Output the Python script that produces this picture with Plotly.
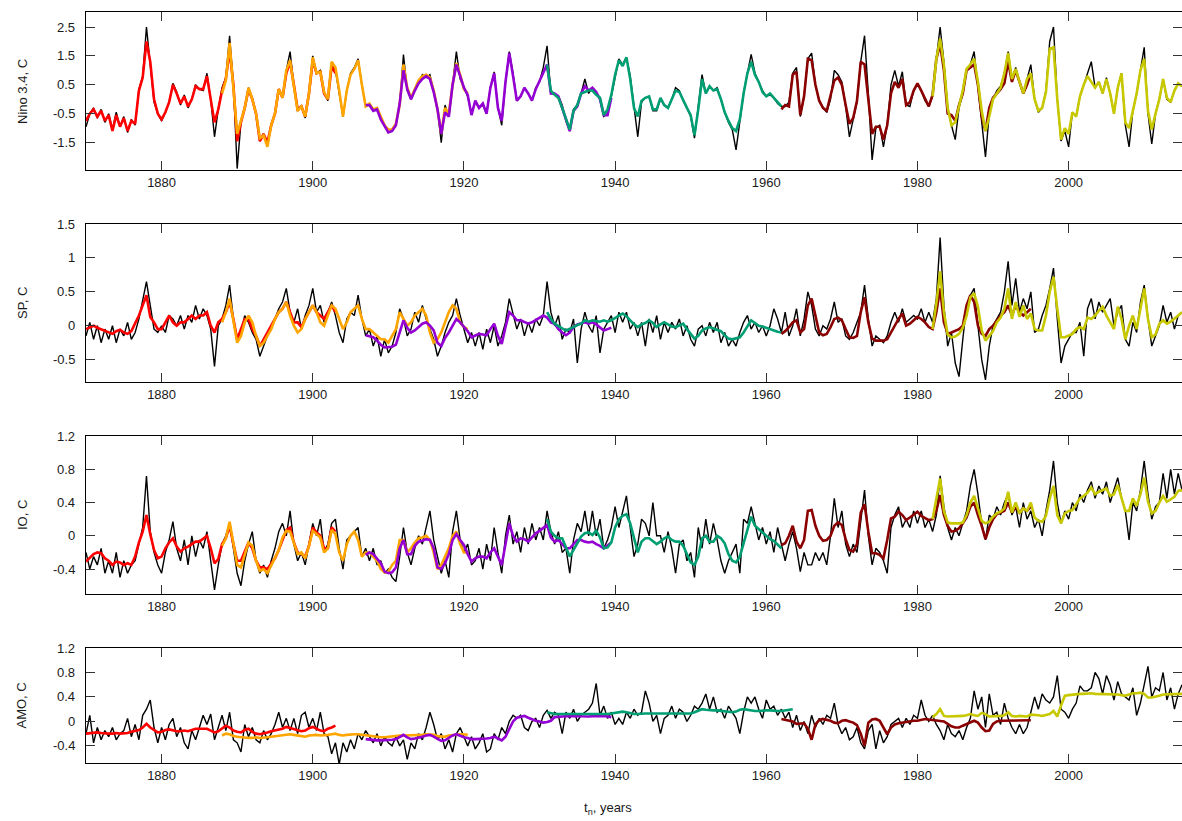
import plotly.graph_objects as go

# ---------------- data (half-year sampling) ----------------
STEP = 0.5
OBS_START = 1870.0
RED_START = 1870.0
ORANGE_START = 1888.0
PURPLE_START = 1907.0
TEAL_START = 1931.0
DARKRED_START = 1962.0
YELLOW_START = 1982.0

X_TICKS = [1880, 1900, 1920, 1940, 1960, 1980, 2000]
NINO_TICKS = [-1.5, -0.5, 0.5, 1.5, 2.5]
SP_TICKS = [-0.5, 0, 0.5, 1, 1.5]
IO_TICKS = [-0.4, 0, 0.4, 0.8, 1.2]
AMO_TICKS = [-0.4, 0, 0.4, 0.8, 1.2]
PANEL_TITLES = ["Nino 3.4, C", "SP, C", "IO, C", "AMO, C"]
X_TITLE = "t<sub>n</sub>, years"

# ---- Nino 3.4 ----
NINO_OBS = [
    -0.95, -0.5, -0.3, -0.65, -0.35, -0.8, -0.5, -1.05, -0.45, -0.95, -0.6, -1.15, -0.7, -0.9, 0.35, 0.8, 2.5, 1.3, -0.1, -0.5,
    -0.75, -0.45, -0.1, 0.55, 0.25, -0.2, 0.15, -0.3, 0.0, 0.5, 0.35, 0.3, 0.9, 0.0, -1.3, -0.35, 0.4, 0.75, 2.2, 0.5,
    -2.4, -0.8, -0.3, 0.4, 0.0, -0.55, -1.45, -1.2, -1.6, -0.9, -0.5, 0.35, 0.05, 1.0, 1.65, 0.5, -0.4, -0.25, -0.65, 0.2,
    1.5, 0.9, 1.0, 0.2, -0.05, 1.2, 1.0, 0.2, -0.6, 0.3, 0.9, 1.1, 1.4, 0.5, -0.25, -0.2, -0.4, -0.3, -0.65, -0.9,
    -1.15, -1.1, -0.9, -0.2, 1.55, 0.3, 0.0, 0.3, 0.6, 0.85, 0.75, 0.85, 0.3, -0.35, -1.5, -0.2, -0.6, 0.6, 1.65, 0.7,
    0.4, 0.1, -0.5, -0.1, -0.3, -0.2, -0.5, 0.4, 0.95, -0.3, -0.9, 0.6, 1.65, 0.9, -0.05, 0.1, 0.4, 0.2, -0.05, 0.4,
    0.6, 1.1, 1.85, 0.2, 0.2, 0.1, -0.2, -0.75, -1.1, -0.35, -0.2, 0.2, 0.7, 0.2, 0.4, 0.2, 0.0, -0.6, -0.5, 0.1,
    0.8, 1.4, 1.2, 1.45, 0.8, -0.3, -1.3, -0.1, 0.05, 0.1, -0.4, -0.4, 0.0, -0.2, -0.3, 0.0, 0.4, 0.3, -0.05, -0.3,
    -0.6, -1.35, -0.3, 0.85, 0.2, 0.45, 0.3, 0.4, 0.0, -0.45, -0.8, -1.05, -1.75, -0.7, 0.2, 0.9, 1.55, 0.9, 0.6, 0.3,
    0.1, 0.15, 0.05, -0.15, -0.25, -0.25, -0.1, 0.9, 1.1, -0.6, 0.1, 1.4, 1.6, 0.5, -0.05, -0.3, -0.45, 0.0, 1.0, 0.85,
    0.6, -0.25, -1.3, -0.7, -0.1, 1.3, 2.2, 0.2, -2.1, -1.0, -0.9, -1.65, -0.9, 0.5, 1.0, 0.45, 0.95, -0.2, -0.25, 0.3,
    0.55, 0.3, -0.05, -0.25, 0.1, 1.4, 2.5, 1.3, -0.3, -0.9, -1.4, -0.3, 0.2, 1.0, 1.2, 1.65, 0.5, -0.8, -2.0, -0.5,
    0.0, 0.3, 0.45, 0.9, 1.65, 0.7, 1.1, 0.6, 0.2, 0.7, 1.2, 0.0, -0.45, -0.3, 0.3, 2.0, 2.5, 0.0, -1.45, -1.1,
    -1.65, -0.45, -0.6, 0.1, 0.5, 0.85, 1.3, 0.4, 0.6, 0.2, 0.75, 0.2, -0.5, 0.4, 0.9, -0.9, -1.65, -0.4, 0.2, 1.0,
    1.8, -0.5, -1.55, -0.5, 0.0, 0.7, 0.0, -0.1, 0.3, 0.55, 0.45,
]
NINO_RED = [
    -0.75, -0.5, -0.35, -0.6, -0.4, -0.75, -0.55, -1.1, -0.55, -0.95, -0.65, -1.1, -0.75, -0.85, 0.3, 0.75, 2.0, 1.3, 0.0, -0.5,
    -0.7, -0.45, -0.1, 0.5, 0.2, -0.15, 0.1, -0.25, 0.0, 0.45, 0.35, 0.35, 0.8, 0.0, -0.8, -0.35, 0.3, 0.7, 1.7, 0.5,
    -1.45, -0.8, -0.3, 0.35, 0.0, -0.5, -1.45, -1.2, -1.5, -0.9, -0.5, 0.35, 0.05, 0.9, 1.3, 0.5, -0.35, -0.25, -0.6, 0.2,
    1.35, 0.9, 0.95, 0.2, 0.0, 1.15, 0.9,
]
NINO_ORANGE = [
    0.2, 0.65, 1.95, 0.5,
    -1.2, -0.75, -0.3, 0.4, 0.0, -0.5, -1.35, -1.25, -1.65, -0.9, -0.5, 0.35, 0.05, 1.0, 1.35, 0.45, -0.4, -0.25, -0.6, 0.2,
    1.45, 0.9, 0.95, 0.25, 0.0, 1.3, 1.1, 0.3, -0.6, 0.3, 0.85, 1.05, 1.35, 0.5, -0.25, -0.15, -0.35, -0.3, -0.6, -0.9,
    -1.05, -1.05, -0.85, -0.2, 1.2, 0.4, 0.05, 0.35, 0.65, 0.8, 0.85, 0.75, 0.3, -0.35, -1.2, -0.3, -0.5, 0.5, 1.25, 0.85,
    0.35, 0.2,
]
NINO_PURPLE = [
    -0.2, -0.2, -0.4, -0.35, -0.7, -0.95,
    -1.15, -1.1, -0.9, -0.15, 1.0, 0.35, 0.0, 0.3, 0.55, 0.7, 0.8, 0.7, 0.25, -0.35, -1.2, -0.45, -0.6, 0.5, 1.2, 0.8,
    0.4, 0.15, -0.55, -0.05, -0.3, -0.15, -0.5, 0.4, 0.9, -0.3, -0.75, 0.6, 1.6, 0.8, -0.05, 0.1, 0.4, 0.2, -0.05, 0.35,
    0.65, 0.9, 1.2, 0.2, 0.2, 0.1, -0.3, -0.75, -1.1, -0.4, -0.25, 0.2, 0.45, 0.3, 0.4, 0.25, 0.0, -0.55, -0.55, 0.05,
]
NINO_TEAL = [
    1.2, 0.3, 0.15, 0.05, -0.3, -0.7, -1.05, -0.4, -0.2, 0.2, 0.25, 0.3, 0.3, 0.15, 0.05, -0.55, -0.35, 0.15,
    0.85, 1.35, 1.15, 1.45, 0.7, -0.3, -0.6, -0.05, 0.05, 0.1, -0.35, -0.35, 0.05, -0.2, -0.3, 0.0, 0.3, 0.25, -0.05, -0.3,
    -0.55, -1.25, -0.35, 0.7, 0.2, 0.45, 0.3, 0.35, 0.0, -0.45, -0.75, -1.0, -1.1, -0.7, 0.2, 0.9, 1.3, 0.85, 0.6, 0.25,
    0.1, 0.2, 0.05, -0.1, -0.25,
]
NINO_DARKRED = [
    -0.35, -0.2, -0.25, 0.85, 0.95, -0.55, 0.1, 1.4, 1.35, 0.5, -0.05, -0.3, -0.4, 0.1, 0.65, 0.75,
    0.5, -0.2, -0.85, -0.65, -0.05, 1.3, 1.2, 0.0, -1.2, -0.95, -0.95, -1.4, -0.9, 0.2, 0.6, 0.4, 0.7, -0.2, -0.1, 0.3,
    0.55, 0.3, 0.05, -0.25, 0.15, 1.4, 1.9, 1.0, -0.5, -0.55, -0.75, -0.2, 0.2, 1.0, 1.1, 1.2, 0.5, -0.6, -1.1, -0.3,
    0.05, 0.2, 0.35, 0.55, 1.3, 0.6, 1.0, 0.6, 0.2, 0.5, 0.9,
]
NINO_YELLOW = [
    0.1, 1.4, 2.1, 1.2, -0.3, -0.9, -0.8, -0.3, 0.3, 1.05, 1.2, 1.4, 0.6, -0.4, -1.1, -0.6,
    0.0, 0.2, 0.4, 0.9, 1.6, 0.7, 1.05, 0.6, 0.2, 0.7, 0.9, 0.0, -0.4, -0.3, 0.25, 1.75, 1.8, 0.0, -1.4, -1.0,
    -1.2, -0.45, -0.6, 0.1, 0.5, 0.8, 0.6, 0.4, 0.6, 0.2, 0.7, 0.2, -0.5, 0.4, 0.9, -0.8, -1.0, -0.4, 0.2, 1.0,
    1.4, -0.4, -1.05, -0.5, 0.0, 0.7, 0.05, -0.1, 0.3, 0.55, 0.45,
]

# ---- SP ----
SP_OBS = [
    -0.15, 0.05, -0.2, 0.0, -0.25, -0.05, -0.2, 0.0, -0.25, -0.05, -0.15, 0.05, -0.2, -0.1, 0.1, 0.35, 0.65, 0.3, -0.05, -0.1,
    0.0, -0.1, 0.15, 0.1, 0.0, 0.15, -0.05, 0.15, 0.05, 0.3, 0.1, 0.25, 0.15, -0.05, -0.6, 0.0, 0.1, 0.3, 0.6, 0.1,
    -0.2, -0.1, 0.15, 0.05, -0.1, -0.2, -0.45, -0.3, -0.15, 0.0, 0.1, 0.25, 0.35, 0.55, 0.2, 0.05, 0.25, -0.05, 0.15, 0.3,
    0.55, 0.2, 0.3, 0.05, 0.2, 0.35, 0.15, -0.1, -0.25, 0.1, 0.2, 0.15, 0.45, 0.1, -0.15, -0.05, -0.3, -0.15, -0.45, -0.2,
    -0.4, -0.3, -0.1, 0.25, 0.1, -0.15, -0.05, 0.2, 0.05, 0.3, 0.1, -0.05, -0.2, -0.45, -0.3, -0.1, 0.05, 0.15, 0.4, 0.15,
    -0.05, -0.25, -0.1, -0.3, -0.1, -0.35, -0.05, -0.25, 0.0, -0.3, -0.15, 0.05, 0.4, 0.15, -0.05, 0.1, -0.15, 0.05, -0.1, 0.1,
    0.0, 0.15, 0.65, 0.2, 0.0, 0.15, -0.2, -0.05, -0.1, 0.1, -0.55, -0.05, 0.2, 0.0, -0.1, 0.15, -0.4, -0.05, 0.05, 0.15,
    -0.1, 0.2, 0.05, 0.2, -0.05, 0.05, -0.15, 0.05, -0.3, 0.1, -0.1, 0.15, -0.2, 0.05, -0.1, 0.05, -0.05, 0.1, -0.15, 0.0,
    -0.2, -0.3, -0.05, 0.0, -0.15, 0.05, -0.1, 0.05, -0.25, -0.1, -0.3, -0.2, -0.3, -0.1, 0.05, 0.15, -0.05, 0.05, -0.1, 0.0,
    -0.15, 0.0, 0.25, 0.1, -0.1, 0.2, -0.15, 0.0, 0.25, -0.15, 0.1, 0.5, 0.3, -0.05, -0.15, 0.0, -0.05, 0.1, 0.35, 0.05,
    0.1, -0.15, -0.2, -0.1, 0.05, 0.2, 0.6, 0.1, -0.3, -0.15, -0.2, -0.25, -0.15, 0.05, 0.2, 0.05, 0.25, 0.05, 0.1, 0.15,
    0.1, 0.25, 0.05, 0.2, 0.05, 0.4, 1.3, 0.3, -0.3, -0.1, -0.55, -0.75, -0.2, 0.3, 0.45, 0.55, 0.0, -0.5, -0.8, -0.3,
    0.0, 0.1, 0.2, 0.5, 0.95, 0.3, 0.7, 0.2, 0.4, 0.25, 0.5, -0.1, -0.05, 0.15, 0.3, 0.55, 0.85, 0.1, -0.55, -0.3,
    -0.2, -0.1, -0.1, 0.05, -0.45, 0.25, 0.4, 0.1, 0.35, 0.2, 0.3, 0.4, 0.0, 0.2, 0.3, -0.2, -0.3, 0.05, -0.1, 0.35,
    0.6, 0.1, -0.3, -0.15, 0.0, 0.3, 0.05, 0.2, -0.05, 0.15, 0.2,
]
SP_RED = [
    -0.05, -0.03, 0.0, -0.03, -0.05, -0.08, -0.1, -0.12, -0.08, -0.06, -0.1, -0.12, -0.08, 0.03, 0.15, 0.3, 0.45, 0.13, 0.05, -0.05,
    -0.05, 0.05, 0.15, 0.05, 0.0, 0.05, 0.05, 0.1, 0.15, 0.1, 0.15, 0.15, 0.2, 0.0, -0.1, 0.05, 0.1, 0.2, 0.35, 0.1,
    -0.2, -0.05, 0.1, 0.1, -0.05, -0.15, -0.3, -0.2, -0.1, 0.0, 0.1, 0.2, 0.25, 0.35, 0.2, 0.05, 0.05, -0.02, 0.1, 0.2,
    0.3, 0.2, 0.15, 0.1, 0.2, 0.3, 0.2,
]
SP_ORANGE = [
    0.05, 0.2, 0.4, 0.1,
    -0.25, -0.15, 0.05, 0.15, 0.05, -0.15, -0.3, -0.25, -0.15, -0.05, 0.1, 0.2, 0.25, 0.35, 0.15, 0.0, -0.1, -0.05, 0.1, 0.2,
    0.3, 0.2, 0.05, 0.0, 0.15, 0.3, 0.25, 0.1, -0.05, 0.05, 0.2, 0.25, 0.3, 0.1, -0.05, -0.05, -0.1, -0.15, -0.2, -0.2,
    -0.25, -0.15, -0.05, 0.2, 0.1, 0.0, 0.05, 0.15, 0.2, 0.25, 0.15, -0.1, -0.25, -0.2, -0.1, 0.05, 0.2, 0.3, 0.25, 0.05,
    -0.02, -0.05,
]
SP_PURPLE = [
    -0.14, -0.15, -0.17, -0.22, -0.28, -0.32,
    -0.32, -0.31, -0.28, -0.1, 0.08, -0.03, -0.1, -0.07, -0.02, 0.03, 0.05, 0.0, -0.07, -0.25, -0.3, -0.18, -0.1, 0.0, 0.1, 0.05,
    -0.02, -0.08, -0.17, -0.15, -0.12, -0.13, -0.14, -0.05, 0.03, -0.15, -0.27, -0.02, 0.2, 0.15, 0.08, 0.08, 0.06, 0.03, 0.05, 0.08,
    0.12, 0.15, 0.12, 0.05, 0.03, -0.05, -0.1, -0.14, -0.1, -0.02, 0.02, 0.03, 0.05, 0.03, 0.05, 0.02, -0.02, -0.07, -0.05, -0.03,
]
SP_TEAL = [
    0.2, 0.1, 0.03, -0.01, -0.04, -0.07, -0.05, -0.02, 0.01, 0.03, 0.08, 0.06, 0.08, 0.07, 0.06, 0.08, 0.06, 0.08,
    0.12, 0.15, 0.18, 0.14, 0.08, 0.02, -0.02, 0.02, 0.04, 0.08, 0.04, -0.02, 0.02, 0.05, 0.02, -0.01, -0.02, 0.01, 0.03, -0.05,
    -0.12, -0.19, -0.15, -0.07, -0.04, -0.02, -0.04, -0.06, -0.08, -0.14, -0.19, -0.2, -0.19, -0.17, -0.1, 0.0, 0.08, 0.04, 0.0, -0.01,
    -0.03, -0.06, -0.08, -0.09, -0.1,
]
SP_DARKRED = [
    -0.12, -0.08, -0.02, 0.05, 0.08, -0.1, -0.05, 0.3, 0.4, 0.13, -0.1, -0.14, -0.12, -0.02, 0.1, 0.12,
    0.08, -0.05, -0.17, -0.18, -0.15, 0.2, 0.42, 0.05, -0.19, -0.22, -0.22, -0.22, -0.2, -0.1, 0.02, 0.1, 0.18, 0.0, 0.03, 0.08,
    0.13, 0.1, 0.05, -0.02, -0.05, 0.2, 0.55, 0.05, -0.12, -0.1, -0.08, -0.05, 0.0, 0.3, 0.45, 0.35, 0.0, -0.12, -0.15, -0.05,
    0.0, 0.08, 0.15, 0.2, 0.3, 0.15, 0.3, 0.2, 0.15, 0.2, 0.25,
]
SP_YELLOW = [
    -0.05, 0.33, 0.8, 0.2, -0.13, -0.17, -0.16, -0.12, -0.03, 0.15, 0.42, 0.48, 0.28, -0.07, -0.22, -0.15,
    -0.08, 0.05, 0.12, 0.25, 0.55, 0.1, 0.35, 0.13, 0.3, 0.1, 0.18, -0.05, -0.07, -0.07, 0.15, 0.5, 0.72, 0.25, -0.17, -0.17,
    -0.15, -0.12, -0.05, -0.02, -0.05, 0.12, 0.1, 0.15, 0.22, 0.28, 0.15, 0.05, -0.05, 0.28, 0.1, -0.2, 0.0, 0.15, -0.05, 0.25,
    0.55, 0.1, -0.17, -0.13, 0.03, 0.08, 0.03, 0.06, 0.1, 0.15, 0.2,
]

# ---- IO ----
IO_OBS = [
    -0.2, -0.4, -0.25, -0.35, -0.15, -0.45, -0.3, -0.45, -0.2, -0.5, -0.3, -0.45, -0.35, -0.3, -0.1, 0.1, 0.72, 0.05, -0.2, -0.35,
    -0.45, -0.2, -0.05, 0.17, -0.15, -0.3, -0.05, -0.35, 0.0, -0.25, -0.05, -0.15, 0.05, -0.3, -0.65, -0.35, -0.1, 0.0, 0.15, -0.15,
    -0.45, -0.6, -0.3, -0.1, 0.05, -0.3, -0.45, -0.35, -0.5, -0.3, -0.15, 0.05, 0.15, 0.0, 0.3, -0.1, -0.3, -0.2, -0.35, -0.1,
    0.15, 0.0, 0.2, -0.2, -0.1, 0.15, 0.2, -0.15, -0.4, -0.05, 0.0, 0.05, 0.1, -0.25, -0.15, -0.3, -0.15, -0.35, -0.3, -0.45,
    -0.4, -0.5, -0.55, -0.25, 0.1, -0.2, -0.35, -0.15, 0.0, -0.1, 0.1, 0.3, -0.05, -0.25, -0.45, -0.3, -0.5, 0.05, 0.3, -0.05,
    -0.2, -0.1, -0.35, -0.3, -0.15, -0.4, -0.1, -0.3, 0.1, -0.2, -0.45, 0.0, 0.25, -0.1, 0.05, -0.2, 0.1, -0.1, 0.15, -0.05,
    0.1, -0.05, 0.3, 0.05, -0.1, 0.05, -0.2, -0.15, -0.45, -0.05, 0.15, 0.05, 0.3, 0.0, 0.3, 0.0, 0.2, -0.15, -0.05, 0.1,
    0.35, 0.1, 0.3, 0.48, 0.1, -0.25, -0.1, 0.2, 0.15, 0.0, 0.4, 0.0, 0.0, -0.2, 0.05, -0.15, -0.45, -0.1, -0.05, -0.3,
    -0.2, -0.5, 0.1, -0.15, 0.2, -0.1, 0.15, -0.05, -0.3, -0.45, -0.3, -0.2, -0.1, -0.45, 0.2, 0.15, 0.35, 0.15, -0.05, 0.1,
    -0.1, 0.05, -0.2, 0.1, -0.1, -0.3, -0.1, 0.05, -0.15, -0.43, -0.2, -0.35, -0.35, -0.2, -0.3, -0.2, -0.35, 0.0, 0.45, 0.1,
    0.3, -0.1, -0.25, -0.1, -0.2, 0.2, 0.55, 0.0, -0.35, -0.15, -0.2, -0.3, -0.45, 0.1, 0.25, 0.35, 0.1, 0.2, 0.1, 0.3,
    0.15, 0.3, 0.1, 0.2, 0.05, 0.25, 0.72, 0.35, 0.1, -0.05, 0.1, 0.0, 0.15, 0.3, 0.6, 0.8, 0.5, 0.15, -0.05, 0.25,
    0.2, 0.35, 0.25, 0.4, 0.5, 0.25, 0.35, 0.1, 0.4, 0.2, 0.3, 0.1, 0.2, 0.0, 0.3, 0.55, 0.9, 0.4, 0.15, 0.3,
    0.2, 0.4, 0.3, 0.5, 0.4, 0.55, 0.65, 0.45, 0.6, 0.5, 0.65, 0.4, 0.55, 0.7, 0.45, 0.3, -0.05, 0.4, 0.3, 0.55,
    0.9, 0.5, 0.2, 0.35, 0.4, 0.75, 0.45, 0.8, 0.5, 0.75, 0.55,
]
IO_RED = [
    -0.31, -0.27, -0.22, -0.2, -0.21, -0.27, -0.3, -0.35, -0.31, -0.32, -0.35, -0.33, -0.35, -0.25, -0.08, 0.05, 0.25, 0.02, -0.17, -0.27,
    -0.25, -0.15, -0.08, -0.03, -0.13, -0.19, -0.15, -0.13, -0.1, -0.07, -0.07, -0.03, 0.0, -0.15, -0.33, -0.28, -0.1, -0.03, 0.12, -0.1,
    -0.3, -0.3, -0.19, -0.08, -0.15, -0.3, -0.38, -0.38, -0.4, -0.33, -0.27, -0.17, -0.05, 0.07, 0.1, -0.08, -0.2, -0.22, -0.25, -0.12,
    0.1, 0.04, 0.0, -0.15, -0.15, 0.1, 0.05,
]
IO_ORANGE = [
    -0.12, -0.03, 0.17, -0.1,
    -0.35, -0.38, -0.22, -0.08, -0.12, -0.3, -0.42, -0.4, -0.45, -0.35, -0.27, -0.17, -0.02, 0.06, 0.05, -0.1, -0.22, -0.2, -0.27, -0.12,
    0.06, 0.02, -0.02, -0.2, -0.15, 0.07, 0.02, -0.2, -0.3, -0.1, 0.0, 0.05, -0.05, -0.25, -0.2, -0.2, -0.25, -0.3, -0.4, -0.44,
    -0.43, -0.35, -0.3, -0.05, -0.05, -0.2, -0.15, -0.08, -0.03, -0.02, 0.0, -0.05, -0.2, -0.4, -0.35, -0.25, -0.15, 0.0, 0.05, -0.1,
    -0.2, -0.2,
]
IO_PURPLE = [
    -0.23, -0.2, -0.22, -0.27, -0.33, -0.43,
    -0.45, -0.44, -0.38, -0.15, -0.05, -0.22, -0.22, -0.12, -0.07, -0.06, -0.04, -0.05, -0.15, -0.38, -0.4, -0.33, -0.22, -0.05, 0.02, -0.05,
    -0.11, -0.22, -0.31, -0.27, -0.25, -0.25, -0.27, -0.2, -0.15, -0.25, -0.35, -0.1, 0.15, 0.0, -0.07, -0.03, -0.04, -0.07, -0.02, 0.03,
    0.06, 0.09, 0.13, -0.02, -0.07, -0.05, -0.1, -0.15, -0.15, -0.1, -0.05, -0.05, -0.07, -0.08, -0.07, -0.1, -0.12, -0.15, -0.12, -0.08,
]
IO_TEAL = [
    0.2, 0.05, 0.0, -0.03, -0.03, -0.15, -0.25, -0.17, -0.08, -0.01, 0.03, 0.04, 0.01, 0.06, -0.02, -0.15, -0.14, -0.08,
    0.1, 0.2, 0.24, 0.26, 0.15, -0.03, -0.2, -0.07, -0.03, -0.03, -0.07, -0.1, -0.07, -0.03, -0.01, -0.05, -0.07, -0.07, -0.12, -0.23,
    -0.32, -0.35, -0.25, -0.03, 0.0, -0.07, -0.07, 0.0, -0.03, -0.09, -0.22, -0.3, -0.32, -0.25, -0.1, 0.08, 0.23, 0.12, 0.08, 0.04,
    -0.01, -0.04, -0.06, -0.1, -0.15,
]
IO_DARKRED = [
    -0.11, -0.09, 0.0, 0.12, -0.07, -0.15, -0.05, 0.3, 0.31, 0.12, 0.0, -0.06, -0.05, 0.0, 0.12, 0.16,
    0.13, -0.04, -0.17, -0.19, -0.1, 0.28, 0.38, 0.05, -0.21, -0.21, -0.23, -0.27, -0.05, 0.21, 0.23, 0.29, 0.25, 0.19, 0.22, 0.26,
    0.29, 0.24, 0.21, 0.19, 0.2, 0.3, 0.49, 0.25, 0.12, 0.05, 0.06, 0.09, 0.15, 0.22, 0.35, 0.4, 0.25, 0.12, -0.04, 0.1,
    0.2, 0.26, 0.28, 0.3, 0.4, 0.28, 0.35, 0.28, 0.33, 0.3, 0.35,
]
IO_YELLOW = [
    0.2, 0.45, 0.69, 0.3, 0.16, 0.15, 0.15, 0.15, 0.16, 0.25, 0.4, 0.48, 0.33, 0.18, 0.15, 0.17,
    0.23, 0.27, 0.29, 0.33, 0.53, 0.28, 0.4, 0.27, 0.33, 0.3, 0.4, 0.22, 0.18, 0.17, 0.24, 0.45, 0.6, 0.25, 0.15, 0.27,
    0.3, 0.31, 0.38, 0.45, 0.48, 0.52, 0.58, 0.5, 0.53, 0.55, 0.57, 0.48, 0.5, 0.61, 0.45, 0.3, 0.3, 0.45, 0.36, 0.5,
    0.7, 0.41, 0.27, 0.3, 0.4, 0.48, 0.41, 0.44, 0.47, 0.54, 0.55,
]

# ---- AMO ----
AMO_OBS = [
    -0.2, 0.1, -0.35, -0.1, -0.3, -0.15, -0.25, -0.1, -0.3, -0.2, -0.15, 0.05, -0.25, -0.05, -0.3, 0.1, 0.2, 0.35, -0.1, -0.35,
    -0.1, -0.3, -0.05, 0.05, -0.25, -0.1, -0.35, -0.45, -0.15, -0.3, -0.1, 0.1, -0.05, 0.12, -0.3, -0.1, 0.1, -0.15, 0.15, -0.3,
    -0.35, -0.5, -0.05, -0.25, -0.1, -0.3, -0.35, -0.15, -0.3, -0.2, -0.05, 0.15, -0.1, 0.05, -0.15, 0.05, -0.2, 0.1, 0.15, -0.1,
    0.05, -0.15, 0.15, -0.2, -0.25, -0.53, -0.35, -0.7, -0.35, -0.5, -0.3, -0.45, -0.2, -0.3, -0.15, -0.25, -0.35, -0.2, -0.4, -0.25,
    -0.35, -0.4, -0.25, -0.4, -0.3, -0.62, -0.35, -0.45, -0.2, -0.3, -0.1, 0.15, -0.05, -0.3, -0.2, -0.45, -0.3, -0.5, -0.2, -0.1,
    -0.25, -0.4, -0.25, -0.45, -0.35, -0.2, -0.5, -0.45, -0.2, -0.3, -0.1, -0.2, 0.0, 0.1, 0.05, 0.1, -0.1, -0.15, 0.0, 0.05,
    -0.1, 0.1, 0.18, 0.05, 0.15, 0.1, -0.2, 0.15, 0.05, 0.2, 0.0, 0.1, 0.15, 0.2, 0.3, 0.62, 0.1, 0.25, 0.05, 0.15,
    -0.05, 0.05, -0.05, 0.15, 0.05, 0.2, 0.1, 0.15, 0.5, 0.3, 0.0, 0.1, -0.2, 0.05, 0.1, 0.25, 0.05, 0.2, 0.15, 0.0,
    0.1, 0.25, 0.2, 0.3, 0.45, 0.2, 0.4, 0.15, 0.2, 0.05, 0.25, 0.15, 0.05, -0.2, 0.15, 0.4, 0.3, 0.4, 0.2, 0.05,
    0.35, 0.2, 0.25, 0.1, 0.2, 0.05, 0.15, -0.1, 0.1, -0.15, 0.0, -0.2, 0.1, -0.1, 0.05, -0.05, 0.1, 0.05, 0.3, -0.05,
    -0.2, -0.1, -0.3, -0.25, -0.1, -0.35, -0.45, -0.15, -0.05, -0.45, -0.15, -0.35, -0.25, -0.05, 0.0, 0.05, -0.1, 0.05, -0.05, 0.1,
    0.05, 0.35, 0.1, 0.0, 0.1, -0.05, -0.15, -0.3, -0.05, -0.2, -0.25, -0.15, -0.3, -0.1, 0.05, 0.5, 0.2, 0.4, -0.1, 0.45,
    0.1, 0.15, -0.05, 0.3, 0.05, -0.1, -0.2, -0.05, -0.2, -0.1, 0.15, 0.4, 0.2, 0.45, 0.35, 0.3, 0.4, 0.75, 0.2, 0.15,
    0.05, 0.2, 0.3, 0.58, 0.5, 0.5, 0.55, 0.8, 0.7, 0.45, 0.75, 0.6, 0.35, 0.65, 0.45, 0.4, 0.35, 0.55, 0.1, 0.3,
    0.6, 0.9, 0.4, 0.55, 0.5, 0.8, 0.35, 0.55, 0.2, 0.45, 0.6,
]
AMO_RED = [
    -0.2, -0.19, -0.18, -0.18, -0.19, -0.2, -0.2, -0.2, -0.19, -0.2, -0.2, -0.19, -0.17, -0.16, -0.14, -0.1, -0.04, -0.1, -0.14, -0.18,
    -0.17, -0.14, -0.13, -0.15, -0.16, -0.16, -0.15, -0.16, -0.14, -0.12, -0.12, -0.12, -0.12, -0.15, -0.18, -0.16, -0.12, -0.07, -0.1, -0.15,
    -0.17, -0.18, -0.14, -0.12, -0.17, -0.2, -0.21, -0.2, -0.18, -0.16, -0.15, -0.13, -0.12, -0.09, -0.11, -0.13, -0.14, -0.16, -0.15, -0.11,
    -0.09, -0.12, -0.15, -0.16, -0.12, -0.1, -0.07,
]
AMO_ORANGE = [
    -0.23, -0.2, -0.21, -0.24,
    -0.25, -0.26, -0.26, -0.27, -0.27, -0.26, -0.27, -0.27, -0.26, -0.25, -0.24, -0.23, -0.22, -0.21, -0.21, -0.22, -0.23, -0.24, -0.25, -0.23,
    -0.22, -0.22, -0.23, -0.23, -0.22, -0.21, -0.2, -0.22, -0.23, -0.22, -0.21, -0.21, -0.21, -0.22, -0.23, -0.23, -0.24, -0.25, -0.26, -0.26,
    -0.25, -0.24, -0.23, -0.23, -0.23, -0.23, -0.23, -0.23, -0.22, -0.22, -0.21, -0.21, -0.22, -0.24, -0.25, -0.25, -0.23, -0.22, -0.21, -0.21,
    -0.21, -0.22,
]
AMO_PURPLE = [
    -0.29, -0.3, -0.3, -0.31, -0.31, -0.31,
    -0.31, -0.3, -0.29, -0.26, -0.22, -0.26, -0.29, -0.28, -0.27, -0.25, -0.23, -0.22, -0.25, -0.29, -0.32, -0.31, -0.27, -0.23, -0.21, -0.24,
    -0.26, -0.27, -0.29, -0.29, -0.29, -0.29, -0.28, -0.27, -0.25, -0.28, -0.31, -0.25, -0.12, 0.0, 0.06, 0.08, 0.09, 0.06, 0.03, 0.01,
    0.0, -0.02, -0.01, 0.01, 0.07, 0.08, 0.08, 0.085, 0.09, 0.09, 0.09, 0.085, 0.08, 0.08, 0.085, 0.09, 0.09, 0.09, 0.08, 0.07,
]
AMO_TEAL = [
    0.15, 0.13, 0.12, 0.12, 0.12, 0.12, 0.12, 0.11, 0.11, 0.11, 0.115, 0.12, 0.12, 0.12, 0.12, 0.12, 0.12, 0.13,
    0.14, 0.15, 0.16, 0.15, 0.13, 0.12, 0.12, 0.13, 0.13, 0.13, 0.13, 0.13, 0.13, 0.13, 0.12, 0.12, 0.12, 0.12, 0.12, 0.12,
    0.13, 0.15, 0.18, 0.2, 0.19, 0.18, 0.18, 0.18, 0.17, 0.17, 0.16, 0.15, 0.16, 0.19, 0.2, 0.19, 0.17, 0.17, 0.17, 0.18,
    0.18, 0.18, 0.17, 0.17, 0.17, 0.18, 0.19, 0.2,
]
AMO_DARKRED = [
    0.04, 0.03, 0.02, 0.0, -0.04, -0.03, -0.03, -0.12, -0.3, -0.05, 0.02, 0.04, 0.03, 0.01, -0.02, -0.03,
    0.01, 0.02, 0.0, -0.02, -0.06, -0.2, -0.4, -0.02, 0.03, 0.04, 0.01, -0.1, -0.21, -0.1, -0.05, -0.03, -0.02, 0.0, 0.0, 0.01,
    0.01, 0.02, 0.04, 0.03, 0.02, 0.02, 0.01, 0.0, -0.04, -0.08, -0.1, -0.1, -0.07, -0.04, -0.01, 0.01, -0.02, -0.1, -0.16, -0.15,
    -0.04, 0.0, 0.01, 0.01, 0.02, 0.02, 0.01, 0.01, 0.01, 0.02, 0.02,
]
AMO_YELLOW = [
    0.07, 0.12, 0.2, 0.09, 0.08, 0.08, 0.08, 0.09, 0.09, 0.1, 0.12, 0.1, 0.09, 0.14, 0.12, 0.08,
    0.08, 0.08, 0.09, 0.1, 0.15, 0.09, 0.08, 0.09, 0.09, 0.08, 0.11, 0.11, 0.1, 0.09, 0.1, 0.12, 0.17, 0.08, 0.26, 0.42,
    0.43, 0.44, 0.44, 0.45, 0.45, 0.46, 0.46, 0.45, 0.45, 0.44, 0.44, 0.44, 0.44, 0.44, 0.43, 0.42, 0.44, 0.46, 0.46, 0.47,
    0.45, 0.39, 0.39, 0.4, 0.42, 0.44, 0.44, 0.44, 0.45, 0.45, 0.45,
]

# ---------------- styling ----------------
SEG_COLORS = ["#ff0000", "#ffa500", "#9400d3", "#009e73", "#8b0000", "#c8c800"]
SEG_STARTS = [RED_START, ORANGE_START, PURPLE_START, TEAL_START, DARKRED_START, YELLOW_START]

PANELS = [
    dict(obs=NINO_OBS, segs=[NINO_RED, NINO_ORANGE, NINO_PURPLE, NINO_TEAL, NINO_DARKRED, NINO_YELLOW],
         ticks=NINO_TICKS, yrange=[-2.45, 3.02], domain=[0.7896, 1.0], title=PANEL_TITLES[0]),
    dict(obs=SP_OBS, segs=[SP_RED, SP_ORANGE, SP_PURPLE, SP_TEAL, SP_DARKRED, SP_YELLOW],
         ticks=SP_TICKS, yrange=[-0.83, 1.5], domain=[0.5073, 0.7177], title=PANEL_TITLES[1]),
    dict(obs=IO_OBS, segs=[IO_RED, IO_ORANGE, IO_PURPLE, IO_TEAL, IO_DARKRED, IO_YELLOW],
         ticks=IO_TICKS, yrange=[-0.7, 1.2], domain=[0.2250, 0.4354], title=PANEL_TITLES[2]),
    dict(obs=AMO_OBS, segs=[AMO_RED, AMO_ORANGE, AMO_PURPLE, AMO_TEAL, AMO_DARKRED, AMO_YELLOW],
         ticks=AMO_TICKS, yrange=[-0.68, 1.2], domain=[0.0, 0.1531], title=PANEL_TITLES[3]),
]

bad = [(p["title"], len(p["obs"])) for p in PANELS if len(p["obs"]) != 291]
if bad:
    raise ValueError(f"obs length mismatch: {bad}")


def years(start, vals):
    return [start + STEP * i for i in range(len(vals))]


FONT = dict(family="Liberation Sans, Arial, sans-serif", size=13, color="#1a1a1a")
PLOT_W = 1182 - 86
YLABEL_X = -9 / PLOT_W  # right edge of y tick labels, 9 px left of the frame

fig = go.Figure()
annotations = []
for i, p in enumerate(PANELS):
    k = i + 1
    xa = "x" if k == 1 else f"x{k}"
    ya = "y" if k == 1 else f"y{k}"
    fig.add_trace(go.Scatter(x=years(OBS_START, p["obs"]), y=p["obs"], xaxis=xa, yaxis=ya,
                             mode="lines", line=dict(color="black", width=1.4),
                             showlegend=False, hoverinfo="skip"))
    for start, vals, col in zip(SEG_STARTS, p["segs"], SEG_COLORS):
        fig.add_trace(go.Scatter(x=years(start, vals), y=vals, xaxis=xa, yaxis=ya,
                                 mode="lines", line=dict(color=col, width=2.6),
                                 showlegend=False, hoverinfo="skip"))
    axis_common = dict(showline=True, linecolor="black", linewidth=1.3, mirror="ticks",
                       ticks="inside", ticklen=9, tickwidth=1, tickcolor="#333",
                       showgrid=False, zeroline=False, tickfont=FONT)
    fig.layout["xaxis" if k == 1 else f"xaxis{k}"] = dict(
        domain=[0, 1], anchor=ya, range=[1870, 2015], tickvals=X_TICKS,
        ticktext=[str(v) for v in X_TICKS], **axis_common)
    fig.layout["yaxis" if k == 1 else f"yaxis{k}"] = dict(
        domain=p["domain"], anchor=xa, range=p["yrange"], tickvals=p["ticks"],
        showticklabels=False, **axis_common)
    # y tick labels placed right next to the frame
    for v in p["ticks"]:
        annotations.append(dict(text=f"{v:g}", xref="paper", yref=ya, x=YLABEL_X, y=v,
                                showarrow=False, xanchor="right", yanchor="middle", font=FONT))
    annotations.append(dict(text=p["title"], xref="paper", yref="paper",
                            x=-0.0584, y=sum(p["domain"]) / 2, textangle=-90,
                            showarrow=False, xanchor="center", yanchor="middle", font=FONT))

annotations.append(dict(text=X_TITLE, xref="paper", yref="paper", x=0.476, y=-0.06,
                        showarrow=False, xanchor="center", yanchor="middle", font=FONT))

fig.update_layout(width=1182, height=821, margin=dict(l=86, r=0, t=12, b=58),
                  paper_bgcolor="white", plot_bgcolor="white",
                  annotations=annotations, showlegend=False)

fig.write_html("out.html", config={"displayModeBar": False},
               post_script="document.body.style.margin='0px';document.body.style.overflow='hidden';")
